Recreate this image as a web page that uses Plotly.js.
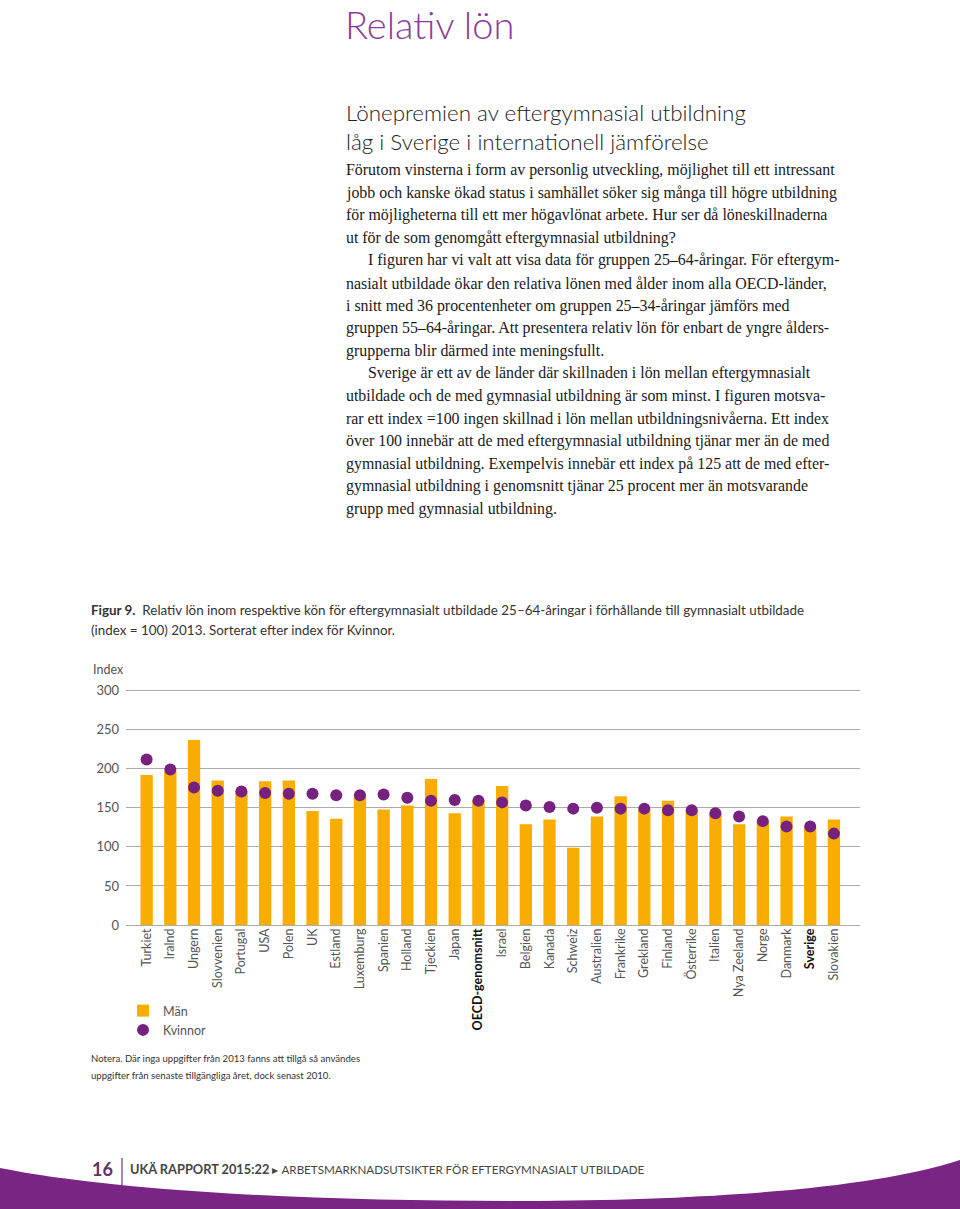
<!DOCTYPE html>
<html><head><meta charset="utf-8">
<script src="https://cdn.plot.ly/plotly-3.0.1.min.js"></script>
<style>html,body{margin:0;padding:0;background:#fff}#chart{width:960px;height:1209px}</style>
</head><body><div id="chart"></div>
<script>
// ---- data ----
const categories = ['Turkiet','Iralnd','Ungern','Slovvenien','Portugal','USA','Polen','UK','Estland','Luxemburg','Spanien','Holland','Tjeckien','Japan','OECD-genomsnitt','Israel','Belgien','Kanada','Schweiz','Australien','Frankrike','Grekland','Finland','Österrike','Italien','Nya Zeeland','Norge','Danmark','Sverige','Slovakien'];
const boldCategories = ['OECD-genomsnitt','Sverige'];
const men   = [192,197,237,185,171,184,185,146,136,167,148,153,187,143,160,178,129,135,99,139,165,148,159,146,142,129,132,139,125,135];
const women = [212,199,176,172,171,169,168,168,166,166,167,163,159,160,159,157,153,151,149,150,149,149,147,147,143,139,133,126,126,117];
const yTicks = [0,50,100,150,200,250,300];
const seriesNames = ['Män','Kvinnor'];

const pageTitle = 'Relativ lön';
const headingLines = ['Lönepremien av eftergymnasial utbildning','låg i Sverige i internationell jämförelse'];
const bodyLines = [
 ['Förutom vinsterna i form av personlig utveckling, möjlighet till ett intressant',0],
 ['jobb och kanske ökad status i samhället söker sig många till högre utbildning',0],
 ['för möjligheterna till ett mer högavlönat arbete. Hur ser då löneskillnaderna',0],
 ['ut för de som genomgått eftergymnasial utbildning?',0],
 ['I figuren har vi valt att visa data för gruppen 25–64-åringar. För eftergym-',1],
 ['nasialt utbildade ökar den relativa lönen med ålder inom alla OECD-länder,',0],
 ['i snitt med 36 procentenheter om gruppen 25–34-åringar jämförs med',0],
 ['gruppen 55–64-åringar. Att presentera relativ lön för enbart de yngre ålders-',0],
 ['grupperna blir därmed inte meningsfullt.',0],
 ['Sverige är ett av de länder där skillnaden i lön mellan eftergymnasialt',1],
 ['utbildade och de med gymnasial utbildning är som minst. I figuren motsva-',0],
 ['rar ett index =100 ingen skillnad i lön mellan utbildningsnivåerna. Ett index',0],
 ['över 100 innebär att de med eftergymnasial utbildning tjänar mer än de med',0],
 ['gymnasial utbildning. Exempelvis innebär ett index på 125 att de med efter-',0],
 ['gymnasial utbildning i genomsnitt tjänar 25 procent mer än motsvarande',0],
 ['grupp med gymnasial utbildning.',0]
];
const captionLines = ['<b>Figur 9.</b>  Relativ lön inom respektive kön för eftergymnasialt utbildade 25–64-åringar i förhållande till gymnasialt utbildade','(index = 100) 2013. Sorterat efter index för Kvinnor.'];
const noteLines = ['Notera. Där inga uppgifter från 2013 fanns att tillgå så användes','uppgifter från senaste tillgängliga året, dock senast 2010.'];
const footerNum = '16';
const footerBold = 'UKÄ RAPPORT 2015:22';
const footerRest = 'ARBETSMARKNADSUTSIKTER FÖR EFTERGYMNASIALT UTBILDADE';

// ---- styling / positioning ----
const W = 960, H = 1209;
const px = x => x / W;
const py = y => 1 - y / H;
const SANS = 'Lato, "Open Sans", sans-serif';
const SERIF = '"Liberation Serif", "DejaVu Serif", serif';
const ORANGE = '#F8AD00', PURPLE = '#76217F', GRID = '#ababab';

const ticktext = categories.map(c => boldCategories.includes(c) ? '<b><span style="fill:#111">' + c + '</span></b>' : c);

const traces = [
 {type:'bar', x:categories, y:men, name:seriesNames[0], marker:{color:ORANGE}, width:0.52, hoverinfo:'x+y'},
 {type:'scatter', mode:'markers', x:categories, y:women, name:seriesNames[1], marker:{color:PURPLE, size:12}, hoverinfo:'x+y'}
];

const ann = [];
function txt(x, y, text, size, color, family, weight, yanchor) {
  ann.push({xref:'paper', yref:'paper', x:px(x), y:py(y), xanchor:'left', yanchor:yanchor || 'middle', showarrow:false, borderpad:0, text:text, font:{size:size, color:color, family:family, weight:weight || 400}});
}
txt(344, 0, pageTitle, 38, '#8c3c99', SANS, 300, 'top');
headingLines.forEach((t,i) => txt(345, 113 + i*28, t, 22.4, '#222', SANS, 300));
bodyLines.forEach((l,i) => txt(l[1] ? 367 : 345, 170 + i*22.6, l[0], 15.9, '#1a1a1a', SERIF));
captionLines.forEach((t,i) => txt(90, 610 + i*20, t, 13.4, '#333', SANS));
txt(92, 669, 'Index', 12.5, '#555', SANS);
noteLines.forEach((t,i) => txt(90, 1058 + i*17, t, 9.6, '#333', SANS));
txt(91, 1169, '<b>' + footerNum + '</b>', 18, '#5e3366', SANS);
txt(129, 1169, '<b><span style="font-size:12.8px">' + footerBold + '</span></b> ▸ <span style="font-size:11.6px">' + footerRest + '</span>', 12, '#444', SANS);

const P = (x,y) => px(x) + ',' + py(y);
const shapes = [
 {type:'line', xref:'paper', yref:'paper', x0:px(122), x1:px(122), y0:py(1158), y1:py(1186), line:{color:'#7a2a86', width:1.2}},
 {type:'path', xref:'paper', yref:'paper', fillcolor:'#7a2583', line:{width:0},
  path:'M' + P(0,1168) + ' C' + P(120,1192) + ' ' + P(330,1202) + ' ' + P(540,1201) + ' C' + P(740,1199) + ' ' + P(880,1186) + ' ' + P(960,1160) + ' L' + P(960,1209) + ' L' + P(0,1209) + ' Z'}
];

const layout = {
  width:W, height:H, margin:{l:0,r:0,t:0,b:0}, paper_bgcolor:'#fff', plot_bgcolor:'#fff',
  font:{family:SANS, color:'#555'},
  showlegend:true,
  legend:{x:px(123), y:py(996), xanchor:'left', yanchor:'top', font:{size:12.5, color:'#555', family:SANS}, bgcolor:'rgba(0,0,0,0)', tracegroupgap:0},
  xaxis:{domain:[px(126), px(860)], type:'category', range:[-0.87, 30.1], tickvals:categories, ticktext:ticktext, tickangle:-90, tickfont:{size:12.5, color:'#555', family:SANS}, showgrid:false, showline:false, ticks:'', fixedrange:true},
  yaxis:{domain:[py(925), py(925 - 310*0.781)], range:[0,310], tickvals:yTicks, ticktext:yTicks.map(String), showgrid:true, gridcolor:GRID, gridwidth:1, zeroline:true, zerolinecolor:GRID, zerolinewidth:1, showline:false, ticks:'', ticklabelstandoff:6, tickfont:{size:13, color:'#555', family:SANS}, fixedrange:true},
  annotations:ann, shapes:shapes, bargap:0.48
};
Plotly.newPlot('chart', traces, layout, {displayModeBar:false, staticPlot:true});
</script></body></html>
